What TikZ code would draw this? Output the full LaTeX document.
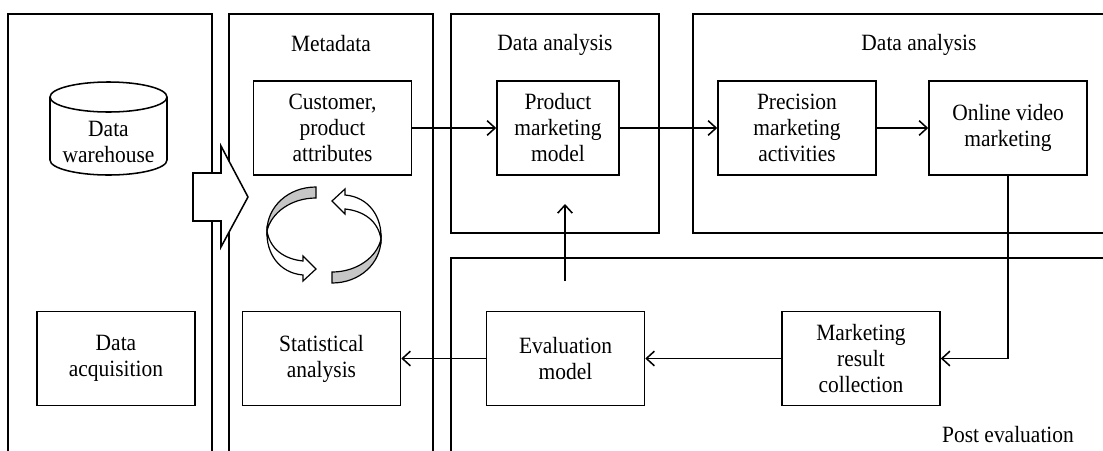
\documentclass[tikz,border=0pt]{standalone}
\usepackage{fontspec}
\setmainfont{Liberation Serif}[FakeStretch=0.92]
\usetikzlibrary{arrows.meta}

\begin{document}
\begin{tikzpicture}[x=0.75pt, y=-0.75pt, line width=1.15pt,
  every node/.style={font=\fontsize{17.5}{19.5}\selectfont, align=center},
  box/.style={draw, minimum width=118.5pt, minimum height=70.5pt, inner sep=2pt},
  panel/.style={draw},
  arr/.style={-{Straight Barb[length=6pt, width=11pt]}},
  ribbon/.style={draw, line width=0.9pt}]
  \useasboundingbox (0,0) rectangle (1103,450);
  \clip (0,0) rectangle (1103,450);

  % panels
  \draw[panel] (8,14) rectangle (212,470);
  \draw[panel] (229,14) rectangle (433,470);
  \draw[panel] (451,14) rectangle (659,233);
  \draw[panel] (693,14) rectangle (1120,233);
  \draw[panel] (451,258) rectangle (1120,470);

  \node (metalbl) at (331,44) {Metadata};
  \node (analbl) at (555,45) {Data analysis};
  \node (analbl2) at (919,45) {Data analysis};
  \node (postlbl) at (1008,435) {Post evaluation};

  % data warehouse
  \draw (108.5,97) ellipse [x radius=58.5, y radius=15];
  \draw (50,97) -- (50,160) arc [start angle=180, end angle=0, x radius=58.5, y radius=15] -- (167,97);
  \node (dw) at (108.5,142) {Data\\warehouse};

  \node[box] (dacq) at (116,358.5) {Data\\acquisition};
  \node[box] (cust) at (332.5,128) {Customer,\\product\\attributes};
  \node[box] (stat) at (321.5,358.5) {Statistical\\analysis};
  \node[box, minimum width=91.5pt] (prod) at (558,128) {Product\\marketing\\model};
  \node[box] (prec) at (797,128) {Precision\\marketing\\activities};
  \node[box] (online) at (1008,128) {Online video\\marketing};
  \node[box] (evalm) at (565.5,358.5) {Evaluation\\model};
  \node[box] (mrc) at (861,358.5) {Marketing\\result\\collection};

  % block arrow
  \draw[fill=white] (193,173) -- (221,173) -- (221,146) -- (248,197) -- (221,247) -- (221,221) -- (193,221) -- cycle;

  % cycle arrows
  \begin{scope}[shift={(324,235)}]
    \foreach \rot in {0,180} {
      \begin{scope}[rotate=\rot]
        \draw[ribbon, fill=white] (-57,-4) .. controls (-54,14) and (-40,24) .. (-21,26) -- (-21,21) -- (-8,34) -- (-21,46) -- (-21,40) .. controls (-45,38) and (-58,18) .. (-57,-4) -- cycle;
        \draw[ribbon, fill=gray!45] (-8,-48) .. controls (-36,-48) and (-57,-28) .. (-57,-4) .. controls (-53,-22) and (-33,-37) .. (-8,-37) -- cycle;
      \end{scope}
    }
  \end{scope}

  \coordinate (fb1) at (565,281);
  \coordinate (fb2) at (565,204);

  \draw[arr] (cust) -- (prod);
  \draw[arr] (prod) -- (prec);
  \draw[arr] (prec) -- (online);
  \draw[arr] (online.south) |- (mrc.east);
  \draw[arr] (mrc) -- (evalm);
  \draw[arr] (evalm) -- (stat);
  \draw[arr] (fb1) -- (fb2);
\end{tikzpicture}
\end{document}
